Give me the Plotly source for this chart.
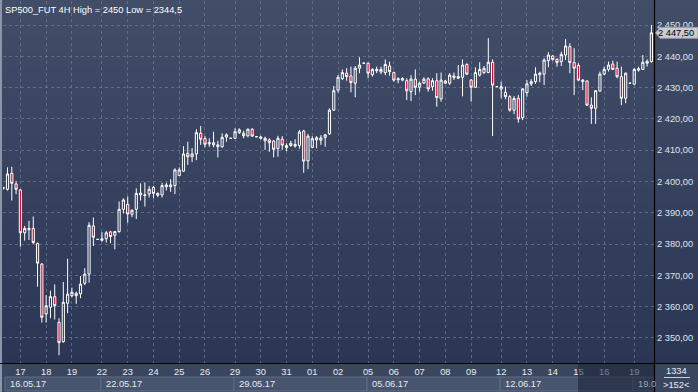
import plotly.graph_objects as go

# ---------------- data ----------------
opens = [2397.8, 2397.5, 2402.6, 2399.2, 2397.3, 2383.6, 2384.6, 2385.0, 2380.2, 2373.6,
         2357.7, 2359.8, 2363.2, 2355.0, 2348.8, 2361.1, 2363.5, 2364.3, 2364.1, 2367.5,
         2370.4, 2385.8, 2381.5, 2381.2, 2381.7, 2383.9, 2382.8, 2384.0, 2391.1, 2392.7,
         2389.5, 2391.1, 2395.7, 2395.5, 2396.0, 2398.1, 2395.6, 2395.7, 2398.3, 2398.3,
         2398.7, 2401.9, 2403.3, 2409.0, 2407.9, 2408.8, 2415.4, 2413.7, 2412.0, 2412.4,
         2411.1, 2411.1, 2414.2, 2413.8, 2413.8, 2415.6, 2415.4, 2414.6, 2416.7, 2414.3,
         2413.8, 2413.0, 2413.3, 2412.9, 2410.5, 2413.5, 2410.8, 2411.5, 2411.3, 2411.5,
         2416.1, 2406.6, 2410.9, 2413.3, 2413.2, 2414.1, 2415.2, 2422.8, 2429.2, 2432.9,
         2434.6, 2433.7, 2431.4, 2436.2, 2437.8, 2437.8, 2434.1, 2435.4, 2435.0, 2434.8,
         2436.9, 2434.8, 2432.5, 2432.4, 2432.2, 2428.7, 2432.7, 2430.1, 2431.4, 2432.8,
         2430.3, 2432.2, 2426.4, 2431.4, 2431.4, 2433.2, 2433.0, 2433.3, 2437.4, 2432.4,
         2430.1, 2434.0, 2434.8, 2434.8, 2438.1, 2430.3, 2429.5, 2428.5, 2427.1, 2422.8,
         2426.6, 2420.4, 2428.4, 2431.2, 2431.9, 2434.1, 2434.3, 2438.6, 2440.1, 2439.0,
         2438.3, 2440.4, 2443.1, 2438.0, 2437.1, 2431.9, 2432.1, 2424.4, 2423.4, 2428.9,
         2434.3, 2435.8, 2437.5, 2436.2, 2433.5, 2426.6, 2431.4, 2431.1, 2435.6, 2435.8,
         2437.8, 2438.3]
highs = [2398.3, 2404.5, 2404.7, 2400.0, 2397.5, 2385.8, 2387.4, 2388.8, 2380.5, 2373.9,
         2363.7, 2365.1, 2367.1, 2356.3, 2367.9, 2375.3, 2366.1, 2364.8, 2369.8, 2372.3,
         2387.0, 2388.5, 2381.6, 2383.8, 2384.2, 2384.2, 2384.2, 2393.6, 2394.6, 2395.2,
         2391.1, 2397.8, 2399.4, 2399.7, 2398.6, 2398.6, 2396.5, 2399.6, 2399.6, 2400.7,
         2404.2, 2404.5, 2411.3, 2412.7, 2410.7, 2416.7, 2417.7, 2414.5, 2413.8, 2415.9,
         2413.0, 2415.4, 2415.4, 2413.9, 2417.0, 2417.0, 2416.2, 2416.9, 2417.0, 2414.4,
         2414.6, 2414.3, 2413.8, 2413.3, 2414.6, 2414.5, 2412.2, 2413.0, 2413.5, 2416.5,
         2416.5, 2415.2, 2414.5, 2414.5, 2414.8, 2415.2, 2423.4, 2430.5, 2434.0, 2435.8,
         2436.2, 2436.7, 2436.9, 2439.7, 2437.9, 2437.9, 2436.2, 2436.7, 2436.7, 2439.0,
         2438.3, 2435.1, 2433.3, 2433.3, 2433.0, 2434.0, 2435.8, 2431.9, 2433.3, 2433.3,
         2433.0, 2434.6, 2434.8, 2432.4, 2434.6, 2434.8, 2437.2, 2439.0, 2437.8, 2432.7,
         2436.5, 2438.1, 2436.9, 2445.8, 2439.0, 2430.4, 2431.9, 2430.3, 2427.6, 2427.3,
         2427.6, 2429.8, 2432.4, 2432.7, 2436.5, 2435.1, 2439.4, 2441.3, 2440.4, 2439.4,
         2441.5, 2445.5, 2444.2, 2442.6, 2437.8, 2432.7, 2432.4, 2426.9, 2429.2, 2435.1,
         2436.7, 2438.3, 2438.6, 2438.3, 2436.7, 2434.8, 2431.5, 2436.2, 2436.7, 2440.4,
         2439.0, 2450.0]
lows = [2397.4, 2397.1, 2393.9, 2395.9, 2379.2, 2381.1, 2381.3, 2380.0, 2366.4, 2354.9,
        2354.9, 2356.3, 2355.9, 2344.5, 2348.5, 2357.9, 2363.0, 2360.9, 2362.7, 2366.9,
        2367.7, 2379.4, 2381.4, 2380.8, 2380.5, 2380.3, 2378.3, 2383.6, 2389.8, 2386.8,
        2388.6, 2388.0, 2393.9, 2392.0, 2394.9, 2394.6, 2395.0, 2394.9, 2397.1, 2396.7,
        2396.0, 2401.8, 2403.1, 2405.3, 2406.2, 2406.8, 2411.7, 2410.9, 2411.1, 2410.9,
        2407.7, 2410.8, 2412.7, 2413.7, 2413.6, 2415.2, 2413.8, 2414.1, 2414.3, 2414.2,
        2413.5, 2410.1, 2409.5, 2407.7, 2407.9, 2410.1, 2409.7, 2411.1, 2410.8, 2410.5,
        2402.8, 2403.9, 2410.6, 2410.6, 2411.7, 2411.1, 2414.9, 2422.6, 2428.4, 2432.4,
        2432.2, 2428.5, 2426.9, 2434.6, 2437.7, 2433.0, 2433.5, 2434.6, 2434.3, 2434.0,
        2433.8, 2431.9, 2431.4, 2432.0, 2426.0, 2425.7, 2427.6, 2428.7, 2431.2, 2428.7,
        2429.0, 2423.9, 2425.5, 2431.1, 2430.8, 2432.4, 2432.7, 2427.2, 2434.0, 2425.5,
        2430.0, 2433.5, 2434.3, 2434.6, 2414.5, 2430.2, 2426.6, 2426.3, 2422.3, 2421.5,
        2418.8, 2419.6, 2427.1, 2430.5, 2431.2, 2431.7, 2430.8, 2436.5, 2438.6, 2436.7,
        2436.9, 2438.8, 2434.6, 2427.6, 2432.1, 2429.2, 2424.1, 2418.4, 2418.4, 2428.7,
        2434.0, 2435.1, 2435.6, 2433.0, 2424.4, 2425.0, 2431.3, 2430.8, 2435.1, 2435.6,
        2436.7, 2438.0]
closes = [2398.0, 2402.4, 2399.4, 2397.5, 2383.6, 2385.0, 2385.0, 2380.5, 2373.9, 2356.6,
          2360.3, 2363.2, 2360.3, 2348.5, 2361.4, 2364.0, 2364.6, 2363.5, 2367.2, 2370.4,
          2386.0, 2382.2, 2381.5, 2381.7, 2383.6, 2382.4, 2384.0, 2391.1, 2394.1, 2389.6,
          2390.8, 2396.2, 2396.3, 2395.7, 2397.5, 2396.2, 2396.2, 2398.7, 2398.9, 2398.9,
          2403.7, 2403.7, 2408.8, 2407.9, 2408.8, 2415.6, 2413.5, 2411.9, 2412.4, 2411.7,
          2411.7, 2414.1, 2414.9, 2413.8, 2415.9, 2416.5, 2414.6, 2416.7, 2414.5, 2414.3,
          2414.2, 2413.8, 2412.4, 2410.3, 2413.8, 2411.6, 2411.5, 2412.2, 2411.8, 2415.8,
          2406.5, 2414.5, 2413.7, 2414.0, 2413.9, 2414.9, 2422.8, 2429.0, 2433.3, 2434.8,
          2433.5, 2431.6, 2436.2, 2437.2, 2437.8, 2434.6, 2435.8, 2435.8, 2435.8, 2437.4,
          2435.1, 2432.4, 2432.8, 2432.9, 2429.0, 2432.7, 2430.1, 2431.4, 2432.7, 2429.6,
          2432.2, 2426.8, 2432.4, 2432.1, 2434.0, 2433.7, 2433.5, 2437.2, 2434.3, 2430.1,
          2434.8, 2435.8, 2436.2, 2438.1, 2430.8, 2430.3, 2430.3, 2427.1, 2422.8, 2426.5,
          2420.0, 2429.6, 2431.2, 2431.9, 2434.3, 2434.6, 2438.8, 2440.4, 2439.0, 2438.0,
          2440.6, 2443.3, 2438.0, 2436.2, 2432.4, 2432.4, 2424.4, 2423.4, 2429.0, 2434.3,
          2435.8, 2437.2, 2435.8, 2433.5, 2426.6, 2434.6, 2431.4, 2435.8, 2436.0, 2438.1,
          2438.4, 2447.5]
bar_index = list(range(len(opens)))

day_tick_pos = [4, 10, 16, 23, 29, 35, 41, 47, 54, 60, 66, 72, 78, 85, 91, 97,
                103, 109, 116, 122, 128, 134, 140, 147]
day_tick_text = ["17", "18", "19", "22", "23", "24", "25", "26", "29", "30", "31",
                 "01", "02", "05", "06", "07", "08", "09", "12", "13", "14", "15",
                 "16", "19"]
week_start_pos = [0.4, 22.75, 53.75, 84.75, 115.75, 146.7]
week_labels = ["16.05.17", "22.05.17", "29.05.17", "05.06.17", "12.06.17", "19.0"]
price_ticks = [2350, 2360, 2370, 2380, 2390, 2400, 2410, 2420, 2430, 2440, 2450]
last_price = 2447.5
last_price_text = "2 447,50"
title_text = "SP500_FUT 4H High = 2450 Low = 2344,5"
bars_total_text = "1334"
bars_visible_text = ">152<"
dim_from = 133.9

x_range = [-0.05, 151.6]
y_range = [2342.0, 2457.67]

# ---------------- layout geometry ----------------
W, H = 698, 392
ML, MR, MT, MB = 3, 44, 1, 29
PW = W - ML - MR
PH = H - MT - MB


def px_x(p):  # pixel column -> paper x
    return (p - ML) / PW


def px_y(p):  # pixel row -> paper y
    return (H - MB - p) / PH


FONT = "Liberation Sans, Arial, sans-serif"
FS = 9.3

fig = go.Figure()
fig.add_trace(go.Candlestick(
    x=bar_index, open=opens, high=highs, low=lows, close=closes,
    increasing=dict(line=dict(color="#ffffff", width=1), fillcolor="rgba(0,0,0,0)"),
    decreasing=dict(line=dict(color="#ffffff", width=1), fillcolor="#e4002b"),
    whiskerwidth=0, hoverinfo="skip", showlegend=False,
))

shapes = []
# background gradient (plot + right axis column)
top_c = (66, 78, 104)
bot_c = (42, 54, 84)
N = 48
for i in range(N):
    t = i / (N - 1)
    c = tuple(round(top_c[k] + (bot_c[k] - top_c[k]) * t) for k in range(3))
    y1 = px_y(0) - (px_y(0) - px_y(H - MB)) * i / N
    y0 = px_y(0) - (px_y(0) - px_y(H - MB)) * (i + 1) / N
    shapes.append(dict(type="rect", xref="paper", yref="paper", x0=px_x(0), x1=px_x(W),
                       y0=y0 - 0.001, y1=y1 + 0.001, fillcolor="rgb(%d,%d,%d)" % c,
                       line=dict(width=0), layer="below"))
# bottom strip
shapes.append(dict(type="rect", xref="paper", yref="paper", x0=px_x(0), x1=px_x(W),
                   y0=px_y(H), y1=px_y(H - MB), fillcolor="rgb(58,70,94)",
                   line=dict(width=0), layer="below"))
# week boxes
for i, s in enumerate(week_start_pos):
    e = week_start_pos[i + 1] if i + 1 < len(week_start_pos) else x_range[1] + 5
    shapes.append(dict(type="rect", xref="x", yref="paper", x0=s, x1=e,
                       y0=px_y(391), y1=px_y(377), fillcolor="rgb(72,85,110)",
                       line=dict(color="rgb(96,108,132)", width=1), layer="below"))
# dim overlay on the date strip
shapes.append(dict(type="rect", xref="x", yref="paper", x0=dim_from, x1=x_range[1],
                   y0=px_y(H), y1=px_y(H - MB + 1), fillcolor="rgba(25,34,55,0.55)",
                   line=dict(width=0), layer="above"))
# left light border
shapes.append(dict(type="rect", xref="paper", yref="paper", x0=px_x(0), x1=px_x(2),
                   y0=px_y(H), y1=px_y(0), fillcolor="rgb(140,150,170)",
                   line=dict(width=0), layer="above"))
# black frame lines
shapes.append(dict(type="line", xref="paper", yref="paper", x0=px_x(654.5), x1=px_x(654.5),
                   y0=px_y(H), y1=px_y(0), line=dict(color="#000000", width=1.2), layer="above"))
shapes.append(dict(type="line", xref="paper", yref="paper", x0=px_x(0), x1=px_x(W),
                   y0=px_y(363.5), y1=px_y(363.5), line=dict(color="#000000", width=1.2),
                   layer="above"))
# separator in bottom-right box
shapes.append(dict(type="line", xref="paper", yref="paper", x0=px_x(664), x1=px_x(690),
                   y0=px_y(377.5), y1=px_y(377.5), line=dict(color="rgb(200,206,218)", width=1),
                   layer="above"))
# last-price tag arrow + box
dy = 1.75
shapes.append(dict(type="path", xref="paper", yref="y",
                   path="M %f %f L %f %f L %f %f L %f %f L %f %f Z" % (
                       px_x(655.5), last_price,
                       px_x(660), last_price + dy,
                       px_x(698), last_price + dy,
                       px_x(698), last_price - dy,
                       px_x(660), last_price - dy),
                   fillcolor="rgb(200,203,210)", line=dict(color="rgb(150,155,165)", width=1),
                   layer="above"))

annotations = [
    dict(text=title_text, xref="paper", yref="paper", x=px_x(3), y=px_y(9.5),
         xanchor="left", yanchor="middle", showarrow=False,
         font=dict(family=FONT, size=FS, color="#ffffff")),
    dict(text=last_price_text, xref="paper", yref="y", x=px_x(657), y=last_price,
         xanchor="left", yanchor="middle", showarrow=False, borderpad=0,
         font=dict(family=FONT, size=FS, color="#000000")),
    dict(text=bars_total_text, xref="paper", yref="paper", x=px_x(676.5), y=px_y(371),
         xanchor="center", yanchor="middle", showarrow=False,
         font=dict(family=FONT, size=FS, color="#e8ecf4")),
    dict(text=bars_visible_text, xref="paper", yref="paper", x=px_x(676.5), y=px_y(385),
         xanchor="center", yanchor="middle", showarrow=False,
         font=dict(family=FONT, size=FS, color="#e8ecf4")),
]
for i, (s, lab) in enumerate(zip(week_start_pos, week_labels)):
    annotations.append(dict(text=lab, xref="x", yref="paper", x=s, y=px_y(383.5),
                            xanchor="left", yanchor="middle", xshift=3, showarrow=False,
                            font=dict(family=FONT, size=FS,
                                      color="#9aa3b3" if i == len(week_labels) - 1 else "#e4e9f2")))

fig.update_layout(
    width=W, height=H,
    margin=dict(l=ML, r=MR, t=MT, b=MB, pad=0),
    paper_bgcolor="rgb(%d,%d,%d)" % top_c,
    plot_bgcolor="rgba(0,0,0,0)",
    separators=", ",
    showlegend=False,
    boxgap=0.28,
    shapes=shapes,
    annotations=annotations,
    xaxis=dict(range=x_range, rangeslider=dict(visible=False), tickmode="array",
               tickvals=day_tick_pos, ticktext=day_tick_text, showgrid=True,
               gridcolor="rgba(105,120,150,0.75)", griddash="3px,3px", gridwidth=1,
               zeroline=False, showline=False, ticks="", ticklabelstandoff=2,
               tickfont=dict(family=FONT, size=FS, color="#e8ecf4")),
    yaxis=dict(range=y_range, side="right", tickmode="array", tickvals=price_ticks,
               tickformat=",.2f", showgrid=True, gridcolor="rgba(105,120,150,0.75)",
               griddash="3px,3px", gridwidth=1, zeroline=False, showline=False, ticks="",
               ticklabelstandoff=2,
               tickfont=dict(family=FONT, size=FS, color="#dfe5ef")),
)

fig.write_html("out.html")
